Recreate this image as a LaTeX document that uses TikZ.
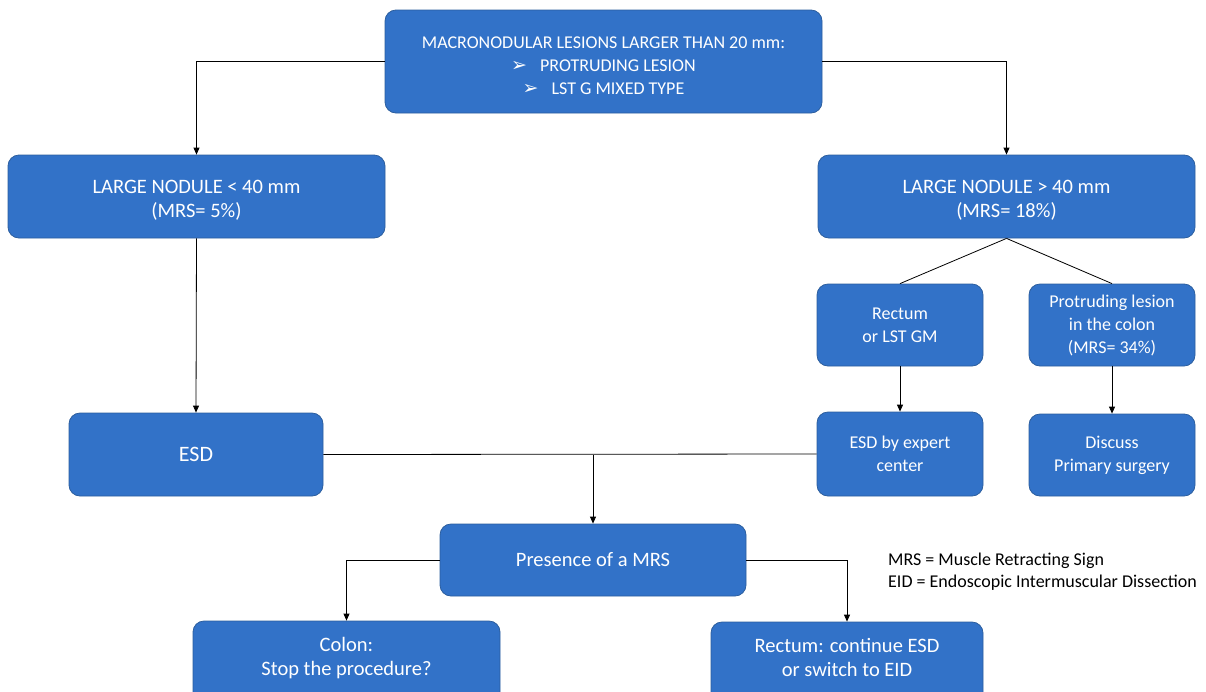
\documentclass[tikz,border=0pt]{standalone}
\usepackage{fontspec}
\setmainfont{Carlito}
\newfontfamily\symfont{DejaVu Sans}
\usetikzlibrary{arrows.meta}
\definecolor{boxblue}{HTML}{3272C8}
\definecolor{boxedge}{HTML}{2C5E9E}
\tikzset{
  box/.style={draw=boxedge, line width=0.8pt, fill=boxblue, rounded corners=11pt,
    text=white, align=center, font=\fontsize{20.5}{24}\selectfont, inner sep=0pt},
  smallbox/.style={box, font=\fontsize{18}{23}\selectfont},
  % boxes running off the lower edge keep their text higher up
  cutbox/.style={box, text depth=14pt},
  link/.style={draw=black, line width=0.8pt},
  arrowlink/.style={link, -{Triangle[length=7pt,width=6pt]}},
  legend/.style={anchor=west, font=\fontsize{18}{22}\selectfont, text=black, inner sep=0pt}
}
\newcommand{\bul}{{\symfont\fontsize{19}{19}\selectfont ➢}\hspace{13pt}}
\newcommand{\topstrut}[1]{\rule{0pt}{#1}}
\begin{document}
\begin{tikzpicture}[x=1pt,y=-1pt]
\useasboundingbox (0,0) rectangle (1206,691);
\fill[white] (0,0) rectangle (1206,691);

% boxes
\node[smallbox, minimum width=437pt, minimum height=103pt] (top) at (603.5,61.5)
  {\topstrut{21pt}MACRONODULAR LESIONS LARGER THAN 20 mm:\\ \bul PROTRUDING LESION\\ \bul LST G MIXED TYPE};
\node[box, minimum width=377pt, minimum height=83pt] (small) at (196.5,196.5)
  {\topstrut{20pt}LARGE NODULE < 40 mm\\(MRS= 5\%)};
\node[box, minimum width=377pt, minimum height=83pt] (large) at (1006.5,196.5)
  {\topstrut{20pt}LARGE NODULE > 40 mm\\(MRS= 18\%)};
\node[smallbox, minimum width=166pt, minimum height=82pt] (rectum) at (900,325)
  {Rectum\\or LST GM};
\node[smallbox, minimum width=166pt, minimum height=82pt] (protr) at (1112,325)
  {Protruding lesion\\in the colon\\(MRS= 34\%)};
\node[box, font=\fontsize{22}{26}\selectfont, minimum width=254pt, minimum height=83pt] (esd) at (196,454.5)
  {ESD};
\node[smallbox, minimum width=166pt, minimum height=84pt] (expert) at (900,454)
  {ESD by expert\\center};
\node[smallbox, minimum width=166pt, minimum height=82pt] (discuss) at (1112,455)
  {Discuss\\Primary surgery};
\node[box, minimum width=306pt, minimum height=72pt] (mrs) at (593,560)
  {Presence of a MRS};
\node[cutbox, minimum width=307pt, minimum height=84pt] (colon) at (346.5,663)
  {Colon:\\Stop the procedure?};
\node[cutbox, minimum width=272pt, minimum height=84pt] (rectesd) at (847,664)
  {Rectum: continue ESD\\or switch to EID};

% legend
\node[legend] (leg1) at (888,561) {MRS = Muscle Retracting Sign};
\node[legend] (leg2) at (888,583) {EID = Endoscopic Intermuscular Dissection};

% connectors
\draw[arrowlink] (top.west) -| (small.north);
\draw[arrowlink] (top.east) -| (large.north);
\draw[link] (large.south) -- (rectum.north);
\draw[link] (large.south) -- (protr.north);
\draw[arrowlink] (small.south) -- (esd.north);
\draw[arrowlink] (rectum.south) -- (expert.north);
\draw[arrowlink] (protr.south) -- (discuss.north);
\draw[link] (esd.east) -- (expert.west);
\coordinate (join) at (mrs.north |- esd.east);
\draw[arrowlink] (join) -- (mrs.north);
\draw[arrowlink] (mrs.west) -| (colon.north);
\draw[arrowlink] (mrs.east) -| (rectesd.north);
\end{tikzpicture}
\end{document}
